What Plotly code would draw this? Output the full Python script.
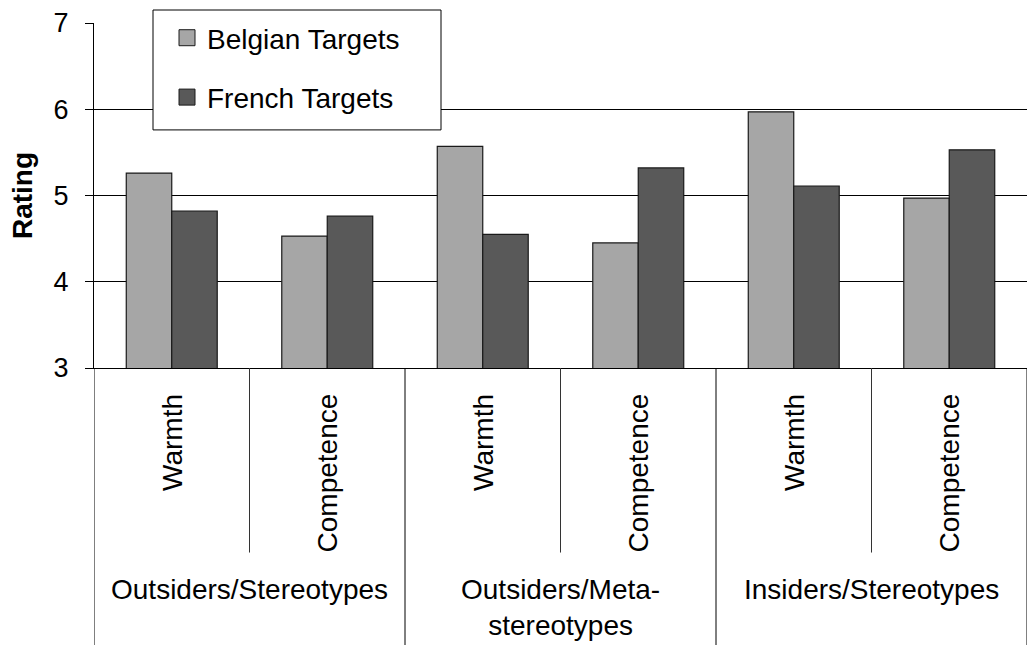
import plotly.graph_objects as go

# ---- data ----
groups = ["Outsiders/Stereotypes", "Outsiders/Meta-<br>stereotypes", "Insiders/Stereotypes"]
dimensions = ["Warmth", "Competence", "Warmth", "Competence", "Warmth", "Competence"]
belgian = [5.26, 4.53, 5.57, 4.45, 5.97, 4.97]
french = [4.82, 4.76, 4.55, 5.32, 5.11, 5.53]
series_names = ["Belgian Targets", "French Targets"]
series_colors = ["#A6A6A6", "#595959"]
y_ticks = [3, 4, 5, 6, 7]

W, H = 1027, 645
PL, PR = 94, 1027
PT, PB = 23, 368.3
FONT = "Liberation Sans, Arial, sans-serif"


def py(pix):
    return (PB - pix) / (PB - PT)


def px(pix):
    return (pix - PL) / (PR - PL)


xpos = list(range(len(dimensions)))

fig = go.Figure()
for name, vals, col in zip(series_names, [belgian, french], series_colors):
    fig.add_trace(go.Bar(x=xpos, y=vals, name=name, showlegend=False,
                         marker=dict(color=col, line=dict(color="#1a1a1a", width=1.2))))
# legend entries
for i, (name, col) in enumerate(zip(series_names, series_colors)):
    fig.add_trace(go.Scatter(x=[None], y=[None], mode="markers", name=name,
                             legendgroup="g%d" % i,
                             marker=dict(symbol="square", size=16, color=col,
                                         line=dict(color="#1a1a1a", width=1))))

annotations = []
for i, d in enumerate(dimensions):
    annotations.append(dict(x=i, y=py(392), xref="x", yref="paper", text=d, textangle=-90,
                            showarrow=False, xanchor="center", yanchor="top",
                            font=dict(size=28, color="black", family=FONT)))
for g, name in enumerate(groups):
    annotations.append(dict(x=2 * g + 0.5, y=py(572), xref="x", yref="paper", text=name,
                            showarrow=False, xanchor="center", yanchor="top",
                            font=dict(size=28, color="black", family=FONT)))

shapes = [dict(type="rect", xref="paper", yref="paper", x0=px(153), x1=px(441),
               y0=py(130), y1=py(10), fillcolor="white", line=dict(color="black", width=1),
               layer="above")]
for g in range(len(groups)):
    shapes.append(dict(type="line", xref="x", yref="paper", x0=2 * g + 0.5, x1=2 * g + 0.5,
                       y0=0, y1=py(553), line=dict(color="#333333", width=1)))
for b in range(len(groups) + 1):
    shapes.append(dict(type="line", xref="x", yref="paper", x0=2 * b - 0.5, x1=2 * b - 0.5,
                       y0=0, y1=py(650), line=dict(color="black", width=1)))

fig.update_layout(
    width=W, height=H,
    margin=dict(l=PL, r=W - PR, t=PT, b=H - PB, autoexpand=False),
    plot_bgcolor="white", paper_bgcolor="white",
    font=dict(family=FONT, color="black", size=28),
    barmode="group", bargap=0.415, bargroupgap=0,
    showlegend=True,
    legend=dict(x=px(167), y=py(13), xanchor="left", yanchor="top",
                bgcolor="rgba(0,0,0,0)", borderwidth=0,
                font=dict(size=28, color="black", family=FONT),
                traceorder="grouped", tracegroupgap=20),
    annotations=annotations, shapes=shapes,
)
fig.update_xaxes(range=[-0.5, 5.5], showticklabels=False, ticks="", showgrid=False,
                 showline=True, linecolor="black", linewidth=1, zeroline=False)
fig.update_yaxes(range=[3, 7], tickvals=y_ticks, ticks="outside", ticklen=8, tickcolor="black",
                 showline=True, linecolor="black", linewidth=1, showgrid=True,
                 gridcolor="black", gridwidth=1, zeroline=False, automargin=False,
                 tickfont=dict(size=27, color="black", family=FONT), ticklabelstandoff=11,
                 title=dict(text="<b>Rating</b>", font=dict(size=28, color="black", family=FONT),
                            standoff=12))

fig.write_html("out.html", config={"displayModeBar": False},
               post_script="document.body.style.margin='0px';")
